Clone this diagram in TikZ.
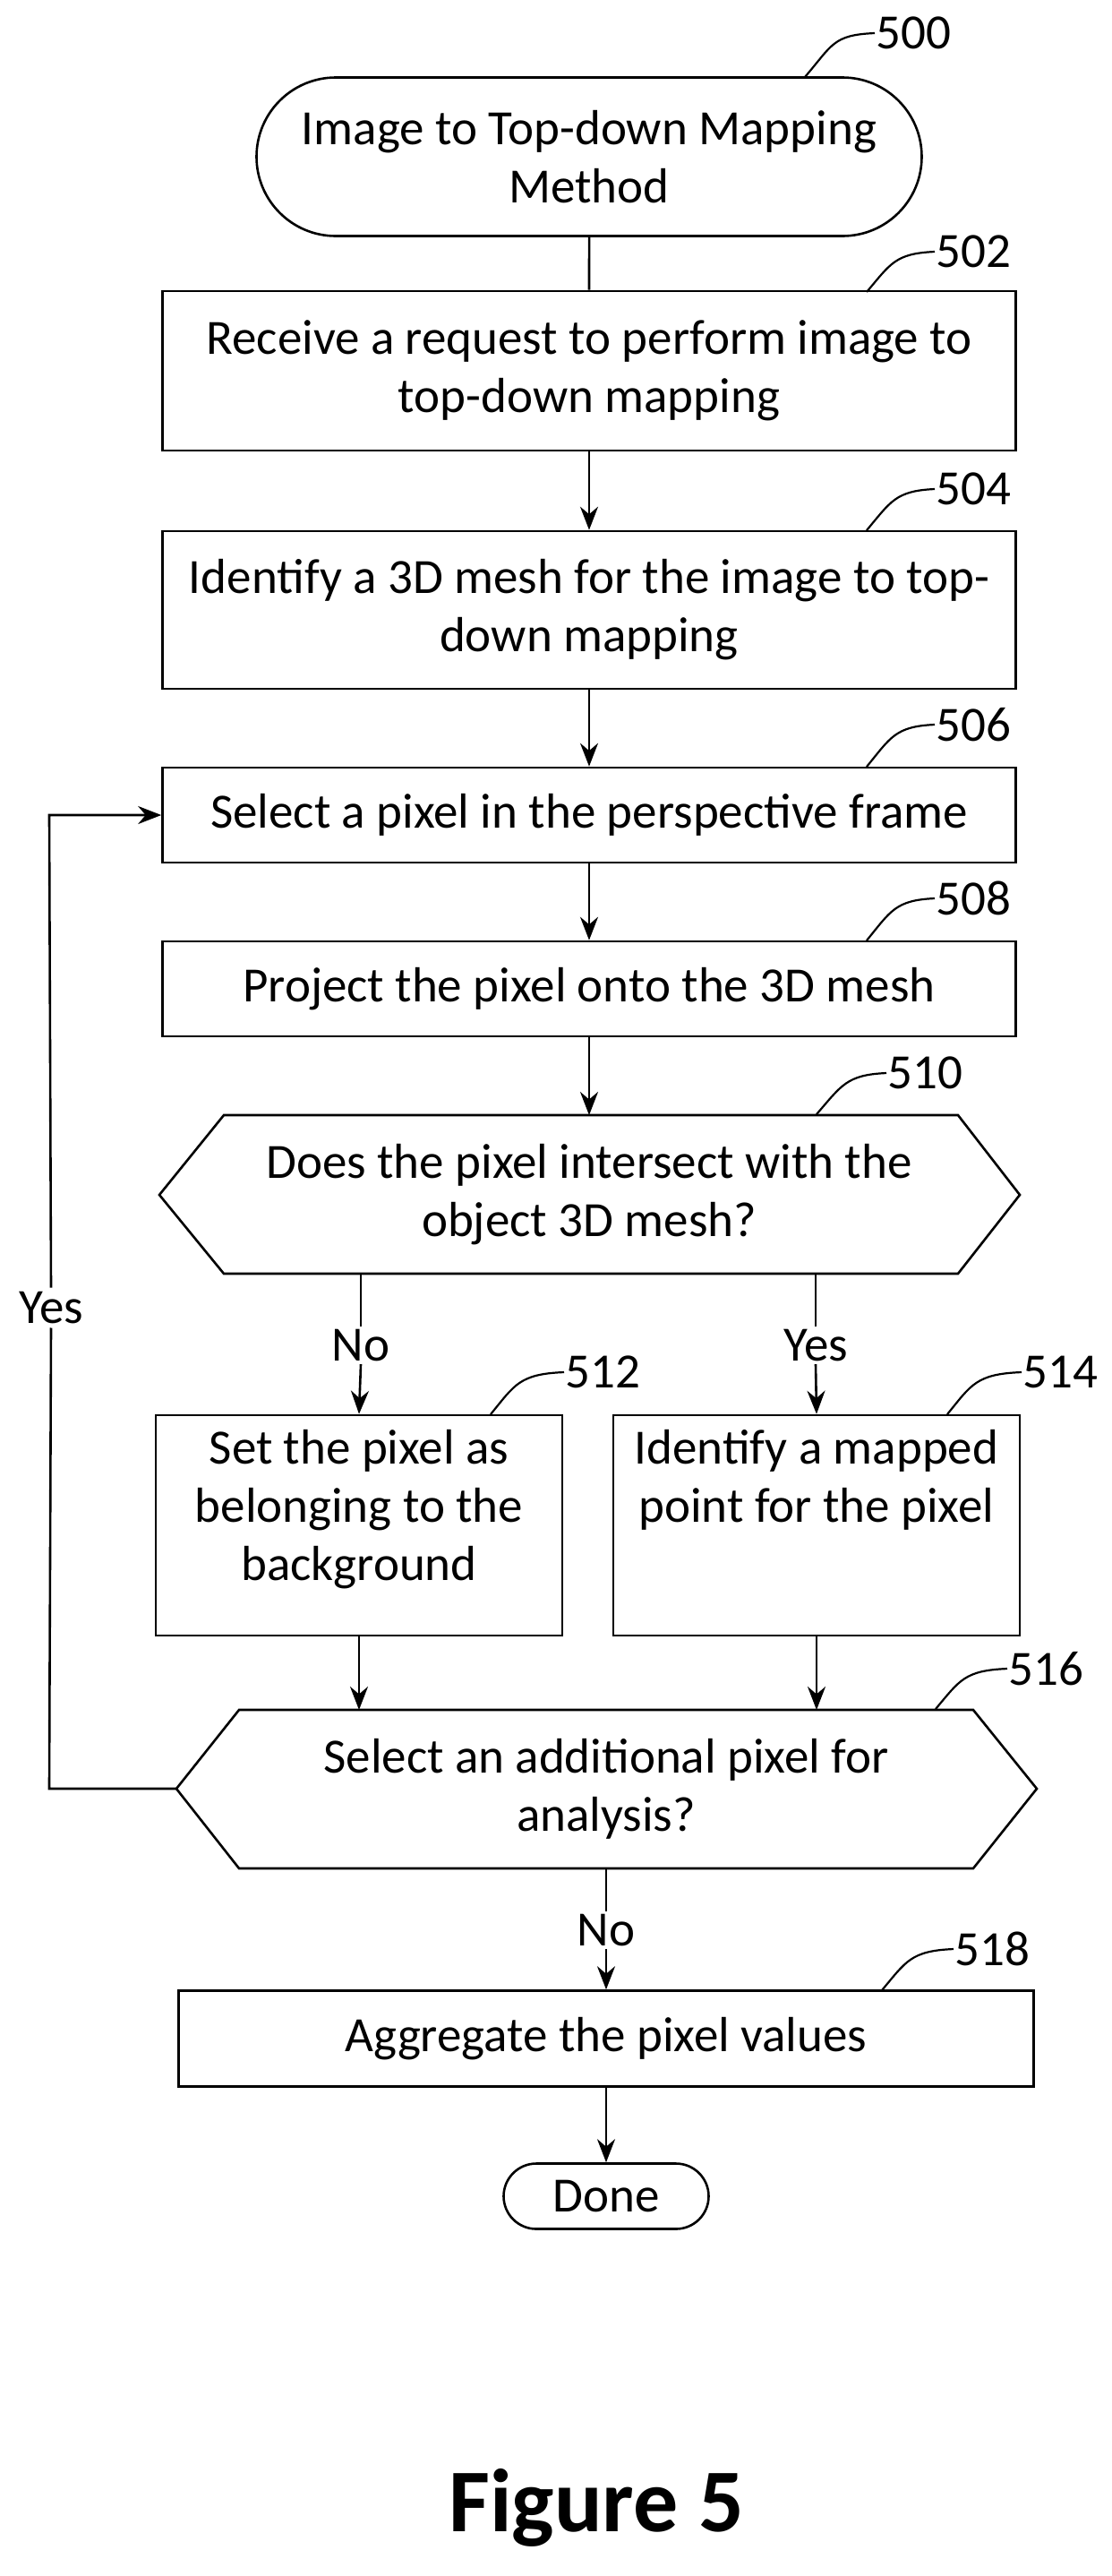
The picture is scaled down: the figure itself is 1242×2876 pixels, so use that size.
\documentclass[tikz,border=0pt]{standalone}
\usepackage{fontspec}
\setmainfont{Carlito}
\usetikzlibrary{arrows.meta,shapes.misc}
\begin{document}
\begin{tikzpicture}[x=1pt,y=1pt,line width=2.6pt,
  every node/.style={font=\fontsize{55}{65}\selectfont, align=center},
  box/.style={draw, rectangle, inner sep=0pt},
  term/.style={draw, rounded rectangle, inner sep=0pt},
  arr/.style={-{Stealth[length=26pt,width=20pt]}},
  lead/.style={line width=2.2pt},
  ref/.style={anchor=west, inner sep=0pt}]
\useasboundingbox (0,0) rectangle (1242,-2876);
% start
\node[term, minimum width=743pt, minimum height=177pt] (s) at (658,-175) {Image to Top-down Mapping\\Method};
\node[box, minimum width=953pt, minimum height=178pt] (b502) at (658,-414) {Receive a request to perform image to\\top-down mapping};
\node[box, minimum width=953pt, minimum height=176pt] (b504) at (658,-681) {Identify a 3D mesh for the image to top-\\down mapping};
\node[box, minimum width=953pt, minimum height=106pt] (b506) at (658,-910) {Select a pixel in the perspective frame};
\node[box, minimum width=953pt, minimum height=106pt] (b508) at (658,-1104) {Project the pixel onto the 3D mesh};
% hex 510
\draw (178,-1334) -- (250,-1245) -- (1070,-1245) -- (1139,-1334) -- (1070,-1422) -- (250,-1422) -- cycle;
\node (h510) at (658,-1334) {Does the pixel intersect with the\\object 3D mesh?};
\coordinate (h510t) at (658,-1245);
\coordinate (h510l) at (403,-1422);
\coordinate (h510r) at (911,-1422);
\node[box, minimum width=454pt, minimum height=246pt] (b512) at (401,-1703) {};
\node[anchor=north] at (401,-1592) {Set the pixel as\\belonging to the\\background};
\node[box, minimum width=454pt, minimum height=246pt] (b514) at (912,-1703) {};
\node[anchor=north] at (912,-1592) {Identify a mapped\\point for the pixel};
% hex 516
\draw (197,-1997) -- (267,-1909) -- (1087,-1909) -- (1158,-1997) -- (1087,-2086) -- (267,-2086) -- cycle;
\node (h516) at (677,-1997) {Select an additional pixel for\\analysis?};
\coordinate (h516l) at (197,-1997);
\coordinate (h516b) at (677,-2086);
\coordinate (h516tl) at (401,-1909);
\coordinate (h516tr) at (912,-1909);
\node[box, minimum width=955pt, minimum height=107pt] (b518) at (677,-2276) {Aggregate the pixel values};
\node[term, minimum width=229pt, minimum height=73pt] (done) at (677,-2452) {Done};
\node[font=\fontsize{100}{110}\selectfont\bfseries] (fig) at (666,-2800) {Figure 5};
% connectors
\draw (s) -- (b502);
\draw[arr] (b502) -- (b504);
\draw[arr] (b504) -- (b506);
\draw[arr] (b506) -- (b508);
\draw[arr] (b508) -- (h510t);
\node[inner sep=2pt] (no1) at (403,-1502) {No};
\node[inner sep=2pt] (yes1) at (911,-1502) {Yes};
\draw (h510l) -- (no1.north);
\draw[arr] (no1.south) -- (b512.north);
\draw (h510r) -- (yes1.north);
\draw[arr] (yes1.south) -- (b514.north);
\draw[arr] (b512.south) -- (h516tl);
\draw[arr] (b514.south) -- (h516tr);
\node (yes2) at (57,-1460) {Yes};
\coordinate (lc) at (55,-1997);
\coordinate (tc) at (55,-910);
\draw (h516l) -- (lc) -- (yes2.south);
\draw[arr] (yes2.north) -- (tc) -- (b506.west);
\node[inner sep=2pt] (no2) at (677,-2155) {No};
\draw (h516b) -- (no2.north);
\draw[arr] (no2.south) -- (b518.north);
\draw[arr] (b518) -- (done);
% reference labels
\node[ref] (r500) at (977,-37) {500};
\draw[lead] (899,-86) .. controls (930,-50) and (930,-39) .. (r500.west);
\node[ref] (r502) at (1044,-281) {502};
\draw[lead] (968,-326) .. controls (995,-294) and (1000,-283) .. (r502.west);
\node[ref] (r504) at (1044,-546) {504};
\draw[lead] (968,-592) .. controls (995,-560) and (1000,-548) .. (r504.west);
\node[ref] (r506) at (1044,-809) {506};
\draw[lead] (968,-856) .. controls (995,-823) and (1000,-811) .. (r506.west);
\node[ref] (r508) at (1044,-1003) {508};
\draw[lead] (968,-1050) .. controls (995,-1017) and (1000,-1005) .. (r508.west);
\node[ref] (r510) at (990,-1198) {510};
\draw[lead] (912,-1244) .. controls (940,-1212) and (945,-1200) .. (r510.west);
\node[ref] (r512) at (630,-1532) {512};
\draw[lead] (548,-1579) .. controls (575,-1546) and (580,-1534) .. (r512.west);
\node[ref] (r514) at (1141,-1532) {514};
\draw[lead] (1058,-1579) .. controls (1085,-1546) and (1090,-1534) .. (r514.west);
\node[ref] (r516) at (1125,-1863) {516};
\draw[lead] (1045,-1908) .. controls (1072,-1876) and (1077,-1865) .. (r516.west);
\node[ref] (r518) at (1065,-2176) {518};
\draw[lead] (985,-2222) .. controls (1012,-2190) and (1017,-2178) .. (r518.west);
\end{tikzpicture}
\end{document}
